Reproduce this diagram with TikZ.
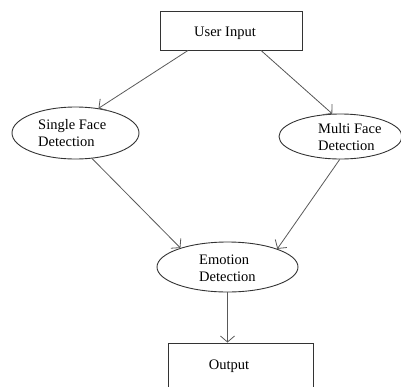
\documentclass[tikz,border=0pt]{standalone}
\usepackage{fontspec}
\setmainfont{Liberation Serif}
\usetikzlibrary{arrows.meta,shapes.geometric}
\begin{document}
\begin{tikzpicture}[x=1pt,y=-1pt,
  box/.style={draw=black!80,line width=0.9pt,inner sep=0pt},
  oval/.style={draw=black!80,line width=0.9pt,ellipse,inner sep=0pt},
  lbl/.style={font=\fontsize{14.5}{17}\selectfont,align=left,inner sep=0pt},
  conn/.style={draw=black!65,line width=0.8pt,-{Straight Barb[length=6pt,width=14pt]}}]
\useasboundingbox (0,0) rectangle (401,386);
\node[box,minimum width=142pt,minimum height=39pt] (ui) at (231,30.5) {};
\node[lbl] (uit) at (225,33) {User Input};
\node[oval,minimum width=127pt,minimum height=52pt] (sf) at (75.5,133) {};
\node[lbl,anchor=west] (sft) at (38,133) {Single Face\\Detection};
\node[oval,minimum width=123pt,minimum height=45pt] (mf) at (340.5,136.5) {};
\node[lbl,anchor=west] (mft) at (318,137) {Multi Face\\Detection};
\node[oval,minimum width=141pt,minimum height=50pt] (em) at (227.5,267) {};
\node[lbl,anchor=west] (emt) at (199,268) {Emotion\\Detection};
\node[box,minimum width=145pt,minimum height=60pt] (out) at (240.5,373) {};
\node[lbl] (outt) at (229,366) {Output};
\draw[conn] ([xshift=-43pt]ui.south) -- (sf.47);
\draw[conn] ([xshift=30pt]ui.south) -- (mf.110);
\draw[conn] (sf.303) -- (em.158);
\draw[conn] (mf.268) -- (em.20);
\draw[conn] (em.south) -- (em.south |- out.north);
\end{tikzpicture}
\end{document}
